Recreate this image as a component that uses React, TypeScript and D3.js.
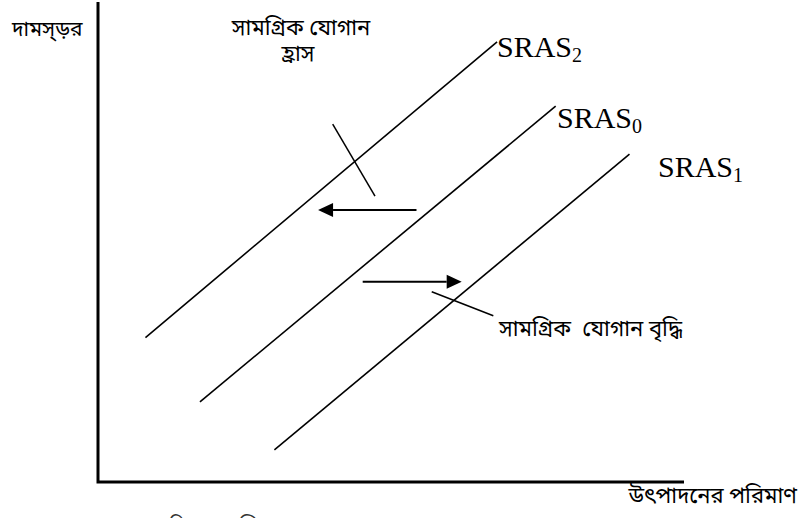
import React from "react";
import * as d3 from "d3";

// Data space: both axes 0..100
const curveNames = ["SRAS2", "SRAS0", "SRAS1"];
const curveLabels = ["SRAS", "SRAS", "SRAS"];
const curveSubs = ["2", "0", "1"];
const curveStart = [
  [8.1, 30.1],
  [17.4, 16.7],
  [30.1, 6.7],
];
const curveEnd = [
  [68.1, 91.7],
  [78.1, 78.3],
  [90.7, 68.3],
];
// arrows: [x1, x2, y]
const arrowFrom = [54.35, 45.17];
const arrowTo = [37.55, 62.06];
const arrowY = [56.67, 41.73];
// leader lines
const leaderStart = [
  [40.05, 74.58],
  [56.95, 39.65],
];
const leaderEnd = [
  [47.27, 59.58],
  [67.46, 34.65],
];

const yAxisLabel = "দামস্ড়র";
const xAxisLabel = "উৎপাদনের পরিমাণ";
const decreaseLabel = ["সামগ্রিক যোগান", "হ্রাস"];
const increaseLabel = "সামগ্রিক  যোগান বৃদ্ধি";
const caption = "চিত্র: সামগ্রিক যোগান রেখার স্থানান্তর";

const W = 799;
const H = 518;
const bn = "'Noto Sans Bengali', Vrinda, 'Lohit Bengali', 'FreeSans', sans-serif";

export default function App() {
  const x = d3.scaleLinear().domain([0, 100]).range([98, 684]);
  const y = d3.scaleLinear().domain([0, 100]).range([482, 2]);
  const labelPos = [
    [497, 57],
    [557, 128],
    [658, 177],
  ];
  const line = d3.line<number[]>().x((d) => x(d[0])).y((d) => y(d[1]));

  return (
    <svg
      width={W}
      height={H}
      style={{ position: "fixed", left: 0, top: 0, background: "#fff" }}
    >
      <rect width={W} height={H} fill="#fff" />
      {/* axes */}
      <path
        d={line([
          [0, 100],
          [0, 0],
          [100, 0],
        ])!}
        fill="none"
        stroke="#000"
        strokeWidth={3}
      />
      {/* curves */}
      {curveNames.map((n, i) => (
        <path
          key={n}
          d={line([curveStart[i], curveEnd[i]])!}
          stroke="#000"
          strokeWidth={1.6}
          fill="none"
        />
      ))}
      {curveNames.map((n, i) => (
        <text
          key={n + "l"}
          x={labelPos[i][0]}
          y={labelPos[i][1]}
          fontFamily="'Liberation Serif', 'Times New Roman', serif"
          fontSize={30}
          fill="#000"
        >
          {curveLabels[i]}
          <tspan fontSize={20} dy={5}>
            {curveSubs[i]}
          </tspan>
        </text>
      ))}
      {/* arrows */}
      {arrowFrom.map((a, i) => {
        const x1 = x(a);
        const x2 = x(arrowTo[i]);
        const yy = y(arrowY[i]);
        const dir = x2 > x1 ? 1 : -1;
        const hl = 15;
        const hw = 7;
        return (
          <g key={"a" + i}>
            <line x1={x1} y1={yy} x2={x2 - dir * hl} y2={yy} stroke="#000" strokeWidth={2} />
            <path
              d={`M${x2},${yy}L${x2 - dir * hl},${yy - hw}L${x2 - dir * hl},${yy + hw}Z`}
              fill="#000"
            />
          </g>
        );
      })}
      {/* leaders */}
      {leaderStart.map((s, i) => (
        <path
          key={"ld" + i}
          d={line([s, leaderEnd[i]])!}
          stroke="#000"
          strokeWidth={1.5}
          fill="none"
        />
      ))}
      {/* Bengali texts */}
      <g fontFamily={bn} fill="#000">
        <text x={12} y={36} fontSize={21}>
          {yAxisLabel}
        </text>
        <text fontSize={22} textAnchor="middle">
          <tspan x={301} y={35}>
            {decreaseLabel[0]}
          </tspan>
          <tspan x={298} y={61}>
            {decreaseLabel[1]}
          </tspan>
        </text>
        <text x={499} y={336} fontSize={22} style={{ whiteSpace: "pre" }}>
          {increaseLabel}
        </text>
        <text x={797} y={503} fontSize={22} textAnchor="end">
          {xAxisLabel}
        </text>
        <text x={170} y={533} fontSize={20} fill="#333">
          {caption}
        </text>
      </g>
    </svg>
  );
}
